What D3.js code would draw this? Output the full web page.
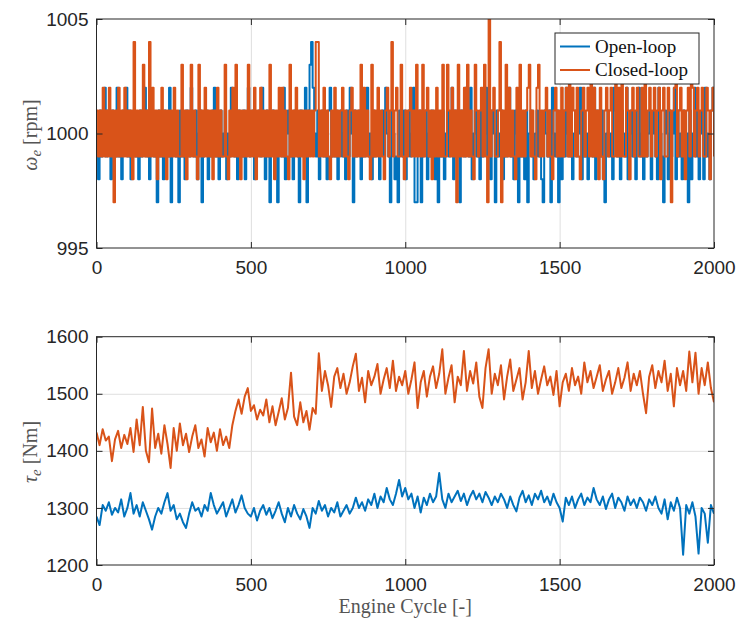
<!DOCTYPE html>
<html lang="en">
<head>
<meta charset="utf-8">
<title>Engine speed and torque</title>
<script src="https://cdn.jsdelivr.net/npm/d3@7"></script>
<style>
  body { margin: 0; background: #fff; }
  .tick text { font-family: "Liberation Sans", Arial, sans-serif; font-size: 19px; fill: #262626; }
  .ticks .tick line { stroke: #262626; stroke-width: 1; }
  .grid .tick line { stroke: #dfdfdf; stroke-width: 1; }
  .grid path, .ticks path { display: none; }
  .label { font-family: "Liberation Serif", "Times New Roman", serif; font-size: 20px; fill: #555; }
  .legend text { font-family: "Liberation Serif", "Times New Roman", serif; font-size: 19px; fill: #111; }
</style>
</head>
<body>
<script>

// engine cycles: speed sampled every 5 cycles, torque every 10 cycles
var speedStep = 5;
var torqueStep = 10;
var rpmBase = 1000;

var xTicks = [0, 500, 1000, 1500, 2000];
var speedTicks = [995, 1000, 1005];
var torqueTicks = [1200, 1300, 1400, 1500, 1600];
var seriesNames = ["Open-loop", "Closed-loop"];
var seriesColors = ["#0072BD", "#D95319"];

// engine speed, offset from 1000 rpm
var speedOpen = [
  0,-2,1,-1,0,2,-1,1,0,-2,1,0,-1,2,-1,0,-2,1,0,2,
  -1,1,-2,0,1,-1,0,-2,1,-1,0,2,-1,1,-2,0,1,-1,0,-3,
  1,-1,0,-2,1,0,-1,2,-3,0,1,-1,0,-3,1,-1,0,-2,1,0,
  -1,2,0,-1,1,-2,0,1,-3,-1,0,1,-2,0,-1,1,2,-1,0,-2,
  1,-1,0,1,-2,0,-1,2,1,-1,0,-2,1,0,-1,1,-2,0,2,-1,
  0,1,-2,-1,0,1,-1,2,0,-2,1,-1,-3,0,1,-1,0,-3,1,0,
  -1,2,-2,0,1,-1,0,-2,1,0,-1,-3,1,0,-1,2,-3,1,3,4,
  2,0,-1,1,-2,0,1,-1,0,-2,1,2,-1,0,-1,1,-2,0,1,-1,
  0,-2,1,-1,2,0,-3,1,-1,0,1,-2,0,-1,1,2,-1,0,-2,1,
  -1,0,1,-2,0,1,-1,2,0,-1,-3,1,0,-2,-1,-3,1,0,-1,1,
  -2,0,1,-1,0,2,-3,-3,0,1,-3,-1,0,1,-2,0,-1,1,0,-2,
  1,-3,0,-1,1,-2,0,1,-1,0,2,-2,1,-1,0,-3,1,0,-1,2,
  0,-1,2,-2,0,1,-1,0,-2,1,-1,0,2,-1,0,-2,1,0,-3,1,
  -1,0,1,-2,0,-1,1,2,-1,0,-2,1,0,-3,1,-1,0,-2,1,-3,
  0,1,-1,-2,0,1,-1,0,-2,-3,1,0,-1,1,-3,2,0,-1,1,-3,
  0,-2,1,-1,2,0,-1,1,-2,0,1,-1,0,2,-2,1,-1,0,-2,1,
  0,-1,2,-2,1,0,-1,1,-2,-3,0,1,-1,0,-2,2,1,-1,0,-2,
  1,0,-1,2,-2,0,1,-1,0,-2,1,2,-1,0,-2,1,-1,0,1,-2,
  0,1,-1,-2,2,0,-1,-3,1,0,-2,1,-1,0,2,-2,1,-1,0,-2,
  1,-1,0,-3,1,-2,0,2,-1,1,-2,0,1,-2,2,-1,0,-2,1,2,
  2
];

var speedClosed = [
  1,-1,1,-1,2,-1,1,-1,2,-1,1,-3,1,-1,2,-1,1,-1,2,-1,
  1,-1,1,-2,4,-1,1,-1,1,-1,3,-1,1,-1,4,-1,2,-1,1,-2,
  1,-1,2,-1,1,-2,1,-1,1,-1,2,-1,1,-1,-1,3,-1,1,-2,1,
  -1,3,-1,1,-1,-2,3,-1,1,-1,2,-1,1,-1,1,-2,1,-1,2,-1,
  1,-1,-1,3,-1,-2,1,-1,2,-1,3,-1,1,-2,1,-1,1,-1,3,-1,
  1,-1,2,-2,1,-1,2,-1,1,-1,1,-1,3,-1,1,-2,1,-1,2,-1,
  2,-1,1,-1,-2,3,-1,1,-1,2,-1,1,-1,1,-2,1,-1,1,-1,1,
  -1,1,4,4,-1,1,-1,2,-1,1,-1,-2,1,-1,2,-1,1,-1,1,2,
  -1,1,-1,-2,1,2,-1,1,-1,1,-1,3,-1,2,-1,1,-1,-2,3,-1,
  1,-1,2,-1,1,-1,-2,1,2,-1,1,4,-1,1,2,-1,-1,3,-1,-2,
  1,-1,1,2,-1,1,-1,3,-1,1,-1,3,-1,1,2,-1,1,-2,1,-1,
  2,-1,1,-1,3,-1,-1,3,1,-1,2,-1,1,-3,3,-1,1,-1,2,-1,
  3,-1,1,-1,-2,3,1,-1,1,2,-1,3,-1,-3,5,-1,1,2,-1,-1,
  1,4,-3,1,-1,3,-1,2,-1,1,-1,-2,2,-1,3,-1,1,-1,1,2,
  3,-1,1,-1,-2,2,3,-1,1,-1,1,2,-1,1,-1,-2,1,2,-1,1,
  -1,2,-1,1,2,-1,3,-1,2,1,-1,2,-1,-2,1,2,-1,1,2,-1,
  3,-1,2,-1,1,-2,2,-1,-2,1,2,-1,1,2,-1,-1,3,-1,2,-1,
  3,-1,-1,2,1,-2,1,2,-1,1,2,-1,-1,2,-1,3,-1,1,2,-1,
  1,2,-1,1,2,-2,1,2,-1,-1,2,1,-3,1,2,3,-1,1,2,-1,
  1,-2,1,2,-1,3,2,-1,1,2,-1,1,2,-1,-1,2,1,-2,1,2,
  -1
];

// engine torque [Nm]
var torqueOpen = [
  1285,1270,1305,1295,1310,1288,1300,1292,1315,1285,
  1300,1326,1290,1305,1285,1310,1295,1280,1262,1285,
  1300,1290,1310,1326,1295,1305,1280,1290,1275,1265,
  1290,1310,1295,1300,1285,1305,1295,1326,1305,1290,
  1300,1310,1285,1300,1315,1292,1305,1322,1300,1290,
  1285,1300,1278,1295,1305,1288,1300,1282,1295,1310,
  1290,1275,1300,1285,1305,1290,1280,1298,1285,1265,
  1300,1290,1312,1295,1305,1285,1300,1292,1310,1285,
  1295,1305,1290,1300,1318,1300,1310,1295,1315,1305,
  1325,1300,1320,1310,1335,1315,1305,1325,1349,1320,
  1335,1315,1325,1300,1320,1292,1318,1305,1325,1310,
  1320,1361,1315,1300,1325,1310,1320,1330,1312,1325,
  1305,1320,1330,1315,1325,1310,1328,1318,1305,1320,
  1310,1325,1315,1300,1320,1305,1294,1318,1330,1310,
  1322,1305,1325,1315,1330,1310,1320,1305,1325,1310,
  1300,1276,1318,1305,1320,1300,1315,1325,1305,1318,
  1310,1335,1315,1305,1320,1298,1315,1325,1300,1318,
  1310,1295,1320,1305,1315,1300,1318,1310,1295,1315,
  1305,1320,1300,1290,1315,1280,1310,1295,1318,1300,
  1218,1305,1290,1310,1285,1220,1300,1290,1239,1305,
  1290
];

var torqueClosed = [
  1432,1410,1438,1418,1425,1382,1420,1435,1405,1428,
  1412,1440,1398,1455,1410,1477,1400,1380,1474,1405,
  1430,1395,1445,1412,1370,1440,1400,1448,1410,1430,
  1398,1425,1445,1405,1420,1390,1440,1415,1432,1400,
  1438,1410,1425,1405,1445,1470,1490,1465,1495,1510,
  1470,1480,1455,1472,1462,1490,1450,1478,1445,1468,
  1492,1455,1475,1537,1460,1445,1485,1450,1470,1437,
  1475,1465,1571,1505,1540,1515,1477,1530,1545,1510,
  1535,1500,1520,1548,1570,1505,1528,1485,1540,1515,
  1530,1552,1500,1525,1545,1510,1558,1505,1530,1515,
  1540,1500,1525,1555,1475,1520,1540,1495,1530,1548,
  1510,1535,1578,1500,1528,1550,1485,1530,1515,1575,
  1505,1540,1518,1555,1495,1475,1545,1578,1500,1535,
  1515,1550,1490,1530,1560,1505,1525,1545,1490,1520,
  1575,1510,1540,1500,1525,1548,1515,1530,1498,1540,
  1478,1520,1535,1505,1545,1515,1530,1500,1555,1520,
  1540,1510,1530,1550,1505,1525,1540,1500,1520,1545,
  1510,1528,1555,1505,1535,1515,1540,1500,1466,1530,
  1550,1510,1540,1520,1558,1505,1535,1478,1545,1515,
  1540,1505,1574,1520,1572,1500,1545,1515,1555,1510,
  1485
];

var w = 737;
var h = 621;
var left = 96.5;
var right = 714;

var svg = d3.select("body").append("svg")
  .attr("width", w)
  .attr("height", h);

var xScale = d3.scaleLinear().domain([0, 2000]).range([left, right]);
var fmt = d3.format("d");

function drawPanel(id, top, bottom, yDomain, yTicks, series, step, curve) {
  var yScale = d3.scaleLinear().domain(yDomain).range([bottom, top]);
  var g = svg.append("g");
  var ph = bottom - top;

  // grid
  g.append("g").attr("class", "grid")
    .attr("transform", "translate(0," + bottom + ")")
    .call(d3.axisBottom(xScale).tickValues(xTicks.slice(1, -1)).tickSize(-ph).tickFormat(""));
  g.append("g").attr("class", "grid")
    .attr("transform", "translate(" + left + ",0)")
    .call(d3.axisLeft(yScale).tickValues(yTicks.slice(1, -1)).tickSize(-(right - left)).tickFormat(""));

  g.append("clipPath").attr("id", id)
    .append("rect").attr("x", left).attr("y", top).attr("width", right - left).attr("height", ph);

  var line = d3.line()
    .curve(curve)
    .x(function(d, i) { return xScale(i * step); })
    .y(function(d) { return yScale(d); });

  series.forEach(function(s, k) {
    g.append("path")
      .datum(s)
      .attr("clip-path", "url(#" + id + ")")
      .attr("fill", "none")
      .attr("stroke", seriesColors[k])
      .attr("stroke-width", 2)
      .attr("stroke-linejoin", "round")
      .attr("d", line);
  });

  // axes with inward ticks
  g.append("g").attr("class", "ticks")
    .attr("transform", "translate(0," + bottom + ")")
    .call(d3.axisBottom(xScale).tickValues(xTicks).tickSize(-6).tickSizeOuter(0).tickPadding(13).tickFormat(fmt));
  g.append("g").attr("class", "ticks")
    .attr("transform", "translate(0," + top + ")")
    .call(d3.axisTop(xScale).tickValues(xTicks).tickSize(-6).tickSizeOuter(0).tickFormat(""));
  g.append("g").attr("class", "ticks")
    .attr("transform", "translate(" + left + ",0)")
    .call(d3.axisLeft(yScale).tickValues(yTicks).tickSize(-6).tickSizeOuter(0).tickPadding(8).tickFormat(fmt));
  g.append("g").attr("class", "ticks")
    .attr("transform", "translate(" + right + ",0)")
    .call(d3.axisRight(yScale).tickValues(yTicks).tickSize(-6).tickSizeOuter(0).tickFormat(""));

  g.append("rect")
    .attr("x", left).attr("y", top)
    .attr("width", right - left).attr("height", ph)
    .attr("fill", "none")
    .attr("stroke", "#262626")
    .attr("stroke-width", 1);

  return yScale;
}

var openRpm = speedOpen.map(function(d) { return rpmBase + d; });
var closedRpm = speedClosed.map(function(d) { return rpmBase + d; });

drawPanel("clipTop", 19, 248, [995, 1005], speedTicks, [openRpm, closedRpm], speedStep, d3.curveStepAfter);
drawPanel("clipBot", 336.7, 565, [1200, 1600], torqueTicks, [torqueOpen, torqueClosed], torqueStep, d3.curveLinear);

// y labels
var yl1 = svg.append("text").attr("class", "label")
  .attr("font-size", "22px")
  .attr("transform", "translate(37,135) rotate(-90)")
  .attr("text-anchor", "middle");
yl1.append("tspan").attr("font-style", "italic").text("ω");
yl1.append("tspan").attr("font-style", "italic").attr("font-size", "15px").attr("dy", 4).text("e");
yl1.append("tspan").attr("dy", -4).text(" [rpm]");

var yl2 = svg.append("text").attr("class", "label")
  .attr("font-size", "22px")
  .attr("transform", "translate(37,452) rotate(-90)")
  .attr("text-anchor", "middle");
yl2.append("tspan").attr("font-style", "italic").text("τ");
yl2.append("tspan").attr("font-style", "italic").attr("font-size", "15px").attr("dy", 4).text("e");
yl2.append("tspan").attr("dy", -4).text(" [Nm]");

svg.append("text").attr("class", "label")
  .attr("x", (left + right) / 2)
  .attr("y", 613)
  .attr("text-anchor", "middle")
  .text("Engine Cycle [-]");

// legend
var lg = svg.append("g").attr("class", "legend");
lg.append("rect")
  .attr("x", 555).attr("y", 33).attr("width", 144).attr("height", 51)
  .attr("fill", "#fff").attr("stroke", "#262626").attr("stroke-width", 1);
seriesNames.forEach(function(name, k) {
  var yy = 46.5 + k * 23.5;
  lg.append("line")
    .attr("x1", 560).attr("x2", 590).attr("y1", yy).attr("y2", yy)
    .attr("stroke", seriesColors[k]).attr("stroke-width", 2);
  lg.append("text").attr("x", 595).attr("y", yy + 6).text(name);
});

</script>
</body>
</html>
